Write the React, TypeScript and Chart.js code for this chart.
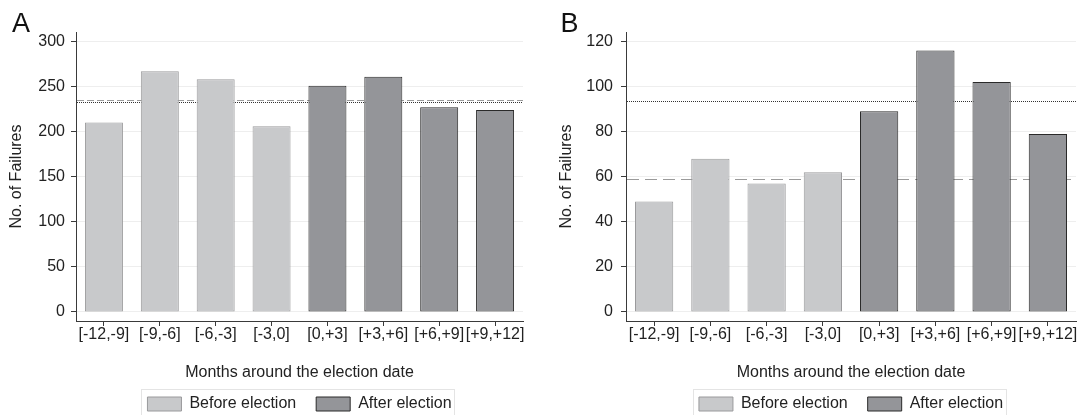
import React, { useEffect, useRef } from "react";
import { Chart, registerables } from "chart.js";

Chart.register(...registerables);

// ---------- data ----------
const categories = ["[-12,-9]", "[-9,-6]", "[-6,-3]", "[-3,0]", "[0,+3]", "[+3,+6]", "[+6,+9]", "[+9,+12]"];
const seriesBefore = "Before election";
const seriesAfter = "After election";
const beforePeriods = 4; // the first four windows precede the election
const failuresA = [210, 267, 258, 206, 251, 261, 227, 224];
const failuresB = [49, 68, 57, 62, 89, 116, 102, 79];
const yTicksA = [0, 50, 100, 150, 200, 250, 300];
const yTicksB = [0, 20, 40, 60, 80, 100, 120];
const refDashedA = 235.2;
const refDottedA = 233;
const refDashedB = 59.2;
const refDottedB = 93.6;
const panelLetterA = "A";
const panelLetterB = "B";
const xAxisTitle = "Months around the election date";
const yAxisTitle = "No. of Failures";

// ---------- style ----------
const FONT = "'Liberation Sans', Arial, Helvetica, sans-serif";
const C = {
  beforeFill: "#c8c9cb",
  beforeBorder: "#9a9a9c",
  afterFill: "#949599",
  afterBorder: "#2a2a2a",
  axis: "#3a3a3a",
  text: "#222222",
  grid: "#eeeeee",
  legendBorder: "#e4e4e4",
  dashed: "#9a9a9a",
  dotted: "#333333",
};
const CANVAS_H = 422;

type Panel = {
  letter: string;
  values: number[];
  ticks: number[];
  yMin: number;
  yMax: number;
  dashed: number;
  dotted: number;
  dashPattern: number[];
  canvasLeft: number;
  canvasWidth: number;
  yAxisWidth: number;
  rightPad: number;
  yTitlePad: number;
  yTickPad: number;
  letterX: number;
};

const panels: Panel[] = [
  {
    letter: panelLetterA,
    values: failuresA,
    ticks: yTicksA,
    yMin: -10,
    yMax: 310.5,
    dashed: refDashedA,
    dotted: refDottedA,
    dashPattern: [7, 3],
    canvasLeft: 0,
    canvasWidth: 545,
    yAxisWidth: 76,
    rightPad: 22,
    yTitlePad: 7,
    yTickPad: 6,
    letterX: 12,
  },
  {
    letter: panelLetterB,
    values: failuresB,
    ticks: yTicksB,
    yMin: -4,
    yMax: 124.2,
    dashed: refDashedB,
    dotted: refDottedB,
    dashPattern: [12, 6],
    canvasLeft: 545,
    canvasWidth: 544,
    yAxisWidth: 81,
    rightPad: 13,
    yTitlePad: 12,
    yTickPad: 8,
    letterX: 15.5,
  },
];

const refLinesPlugin = {
  id: "refLines",
  beforeDatasetsDraw(chart: any, _args: any, opts: any) {
    const { ctx, chartArea } = chart;
    const y = chart.scales.y;
    for (const l of opts.lines || []) {
      const py = Math.round(y.getPixelForValue(l.value)) + 0.5;
      ctx.save();
      ctx.strokeStyle = l.color;
      ctx.lineWidth = 1;
      ctx.setLineDash(l.dash);
      ctx.beginPath();
      ctx.moveTo(chartArea.left + 1, py);
      ctx.lineTo(chartArea.right, py);
      ctx.stroke();
      ctx.restore();
    }
  },
};

const panelLetterPlugin = {
  id: "panelLetter",
  afterDraw(chart: any, _args: any, opts: any) {
    const { ctx } = chart;
    ctx.save();
    ctx.font = `27px ${FONT}`;
    ctx.fillStyle = "#111111";
    ctx.textAlign = "left";
    ctx.textBaseline = "alphabetic";
    ctx.fillText(opts.text, opts.x, opts.y);
    ctx.restore();
  },
};

const legendFramePlugin = {
  id: "legendFrame",
  afterDraw(chart: any, _args: any, opts: any) {
    const lg = chart.legend;
    if (!lg || !lg.legendHitBoxes || !lg.legendHitBoxes.length) return;
    const hb = lg.legendHitBoxes;
    const left = Math.min(...hb.map((h: any) => h.left)) - 6;
    const right = Math.max(...hb.map((h: any) => h.left + h.width)) + 3;
    const top = Math.min(...hb.map((h: any) => h.top)) - 7;
    const { ctx } = chart;
    ctx.save();
    ctx.strokeStyle = opts.color;
    ctx.lineWidth = 1;
    ctx.strokeRect(Math.round(left) + 0.5, Math.round(top) + 0.5, Math.round(right - left), chart.height - top + 10);
    ctx.restore();
  },
};

function buildConfig(p: Panel): any {
  const before = p.values.map((v, i) => (i < beforePeriods ? v : null));
  const after = p.values.map((v, i) => (i >= beforePeriods ? v : null));
  const barCommon = {
    borderWidth: 1,
    borderSkipped: false,
    grouped: false,
    barPercentage: 0.68,
    categoryPercentage: 1,
  };
  return {
    type: "bar",
    data: {
      labels: categories,
      datasets: [
        { label: seriesBefore, data: before, backgroundColor: C.beforeFill, borderColor: C.beforeBorder, ...barCommon },
        { label: seriesAfter, data: after, backgroundColor: C.afterFill, borderColor: C.afterBorder, ...barCommon },
      ],
    },
    options: {
      responsive: false,
      animation: false,
      devicePixelRatio: 1,
      layout: { padding: { top: 32, right: p.rightPad, bottom: 0, left: 0 } },
      scales: {
        x: {
          type: "category",
          offset: true,
          grid: {
            display: true,
            drawOnChartArea: false,
            drawTicks: true,
            tickLength: 5,
            tickColor: C.axis,
            offset: false,
          },
          border: { display: true, color: C.axis, width: 1 },
          ticks: {
            color: C.text,
            font: { family: FONT, size: 16, lineHeight: 1 },
            padding: 1,
            maxRotation: 0,
            minRotation: 0,
            autoSkip: false,
          },
          title: {
            display: true,
            text: xAxisTitle,
            color: C.text,
            font: { family: FONT, size: 16, lineHeight: 0.5 },
            padding: { top: 0, bottom: -1 },
          },
          afterFit: (s: any) => {
            s.height = 55;
          },
        },
        y: {
          type: "linear",
          min: p.yMin,
          max: p.yMax,
          afterBuildTicks: (s: any) => {
            s.ticks = p.ticks.map((v) => ({ value: v }));
          },
          grid: { color: C.grid, tickColor: C.axis, tickLength: 5, drawTicks: true, lineWidth: 1 },
          border: { display: true, color: C.axis, width: 1 },
          ticks: { color: C.text, font: { family: FONT, size: 16 }, padding: p.yTickPad },
          title: {
            display: true,
            text: yAxisTitle,
            color: C.text,
            font: { family: FONT, size: 16 },
            padding: { top: p.yTitlePad, bottom: 0 },
          },
          afterFit: (s: any) => {
            s.width = p.yAxisWidth;
          },
        },
      },
      plugins: {
        legend: {
          display: true,
          position: "bottom",
          fullSize: false,
          labels: {
            boxWidth: 34,
            boxHeight: 14,
            padding: 20,
            color: C.text,
            font: { family: FONT, size: 16 },
          },
        },
        tooltip: { enabled: false },
        refLines: {
          lines: [
            { value: p.dashed, color: C.dashed, dash: p.dashPattern },
            { value: p.dotted, color: C.dotted, dash: [1, 1] },
          ],
        },
        panelLetter: { text: p.letter, x: p.letterX, y: 31.7 },
        legendFrame: { color: C.legendBorder },
      },
    },
    plugins: [refLinesPlugin, panelLetterPlugin, legendFramePlugin],
  };
}

function ChartPanel({ p }: { p: Panel }) {
  const ref = useRef<HTMLCanvasElement | null>(null);
  useEffect(() => {
    if (!ref.current) return;
    const chart = new Chart(ref.current, buildConfig(p));
    return () => chart.destroy();
  }, [p]);
  return (
    <canvas
      ref={ref}
      width={p.canvasWidth}
      height={CANVAS_H}
      style={{ position: "absolute", left: p.canvasLeft, top: 0, width: p.canvasWidth, height: CANVAS_H, display: "block" }}
    />
  );
}

export default function App() {
  return (
    <div
      style={{
        position: "fixed",
        left: 0,
        top: 0,
        width: 1089,
        height: 415,
        overflow: "hidden",
        background: "#ffffff",
      }}
    >
      {panels.map((p) => (
        <ChartPanel key={p.letter} p={p} />
      ))}
    </div>
  );
}
